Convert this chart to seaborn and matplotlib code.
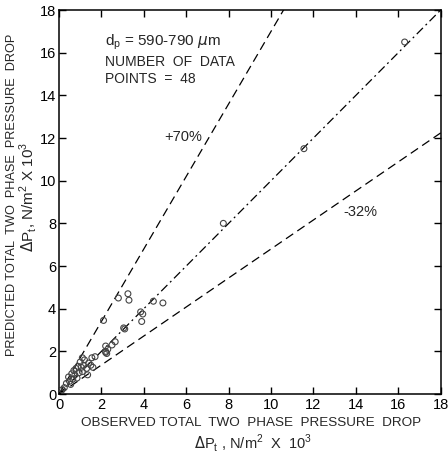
import numpy as np
import pandas as pd
import matplotlib
matplotlib.use("Agg")
import matplotlib.pyplot as plt
import seaborn as sns

# Observed vs predicted total two-phase pressure drop (N/m^2 x 10^3)
observed = [0.15, 0.25, 0.35, 0.45, 0.5, 0.6, 0.65, 0.7, 0.75, 0.8, 0.85, 0.9,
            0.95, 1.0, 1.05, 1.1, 1.1, 1.15, 1.2, 1.3, 1.35, 1.4, 1.5, 1.55,
            1.6, 1.7, 2.1, 2.2, 2.2, 2.25, 2.3, 2.5, 2.65, 2.8, 3.05, 3.1,
            3.25, 3.3, 3.85, 3.9, 3.95, 4.45, 4.9, 7.75, 11.55, 16.3, 0.55, 2.2]
predicted = [0.2, 0.3, 0.5, 0.8, 0.6, 0.95, 0.7, 1.1, 0.9, 1.2, 0.75, 1.3,
             1.0, 1.5, 1.25, 1.7, 1.05, 1.35, 1.6, 1.2, 0.9, 1.45, 1.35, 1.7,
             1.25, 1.75, 3.45, 2.0, 2.25, 1.9, 2.1, 2.3, 2.45, 4.5, 3.1, 3.05,
             4.7, 4.4, 3.85, 3.4, 3.75, 4.35, 4.27, 8.0, 11.5, 16.5, 0.45, 1.95]

# Reference lines: +70 %, perfect agreement, -32 %
band_factors = [1.70, 1.00, 0.68]
band_styles = [(0, (7, 4)), (0, (7, 3, 1.5, 3)), (0, (7, 4))]
band_labels = ["+70%", "-32%"]

axis_max = 18
ticks = list(range(0, 20, 2))

sns.set_style("ticks")
plt.rcParams["font.family"] = ["Liberation Sans", "DejaVu Sans"]

fig = plt.figure(figsize=(4.48, 4.55), dpi=100)
ax = fig.add_axes([0.1317, 0.134, 0.852, 0.844])

xs = np.array([0, axis_max], dtype=float)
for f, ls in zip(band_factors, band_styles):
    line_df = pd.DataFrame({"x": xs, "y": xs * f})
    sns.lineplot(data=line_df, x="x", y="y", ax=ax, color="black",
                 linewidth=0.9, linestyle=ls, legend=False)

pts = pd.DataFrame({"obs": observed, "pred": predicted})
sns.scatterplot(data=pts, x="obs", y="pred", ax=ax, marker="o", s=18,
                facecolor="none", edgecolor="#444444", linewidth=0.8,
                zorder=3, clip_on=False)

ax.set_xlim(0, axis_max)
ax.set_ylim(0, axis_max)
ax.set_xticks(ticks)
ax.set_yticks(ticks)
ax.tick_params(direction="in", length=5, width=1, labelsize=10.5,
               top=True, right=True, pad=2.5, colors="black")
ax.tick_params(axis="y", pad=2)
for sp in ax.spines.values():
    sp.set_linewidth(1.1)
    sp.set_color("black")

ax.set_xlabel("")
ax.set_ylabel("")

# Axis titles (two lines each)
fig.text(0.56, 0.07, "OBSERVED TOTAL  TWO  PHASE  PRESSURE  DROP",
         ha="center", va="center", fontsize=9.7)
fig.text(0.565, 0.027, r"$\Delta$P$_\mathregular{t}$ , N/m$^\mathregular{2}$  X  10$^\mathregular{3}$",
         ha="center", va="center", fontsize=10.5)
fig.text(0.027, 0.571, "PREDICTED TOTAL  TWO  PHASE  PRESSURE  DROP",
         ha="center", va="center", rotation=90, fontsize=9.2)
fig.text(0.063, 0.567, r"$\Delta$P$_\mathregular{t}$, N/m$^\mathregular{2}$ X 10$^\mathregular{3}$",
         ha="center", va="center", rotation=90, fontsize=11)

# Annotations
ax.text(2.15, 16.5, r"d$_\mathregular{p}$ = 590-790 $\mu$m", fontsize=11, va="center")
ax.text(2.15, 15.56, "NUMBER  OF  DATA", fontsize=10, va="center")
ax.text(2.15, 14.77, "POINTS  =  48", fontsize=10, va="center")
ax.text(4.97, 12.05, band_labels[0], fontsize=10.5, va="center")
ax.text(13.4, 8.53, band_labels[1], fontsize=10.5, va="center")

fig.savefig("out.png", dpi=100)
